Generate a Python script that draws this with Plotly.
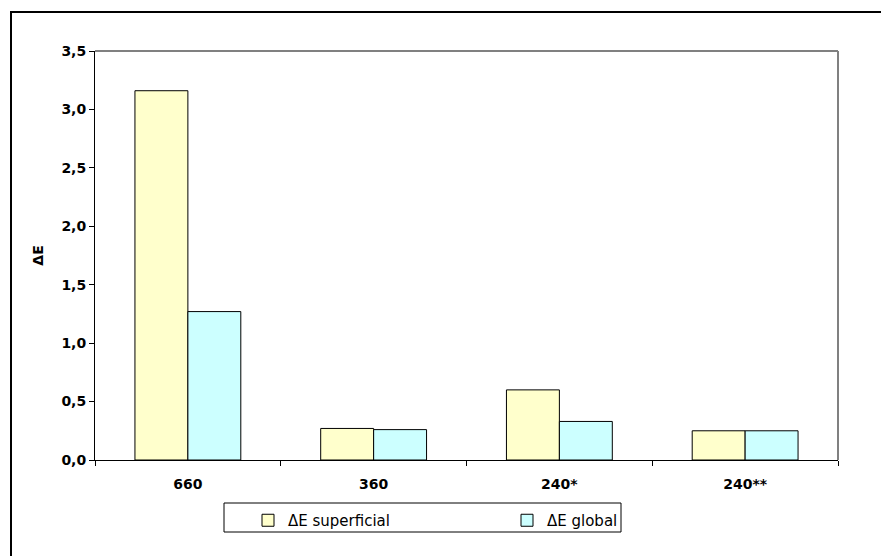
import plotly.graph_objects as go

categories = ["660", "360", "240*", "240**"]
de_superficial = [3.16, 0.27, 0.60, 0.25]
de_global = [1.27, 0.26, 0.33, 0.25]
y_ticks = [0.0, 0.5, 1.0, 1.5, 2.0, 2.5, 3.0, 3.5]
y_tick_labels = ["0,0", "0,5", "1,0", "1,5", "2,0", "2,5", "3,0", "3,5"]

FONT = "DejaVu Sans, Arial, sans-serif"

fig = go.Figure()
fig.add_trace(go.Bar(
    x=categories, y=de_superficial, name="ΔE superficial",
    marker=dict(color="#FFFFCC", line=dict(color="#000000", width=1)),
))
fig.add_trace(go.Bar(
    x=categories, y=de_global, name="ΔE global",
    marker=dict(color="#CCFFFF", line=dict(color="#000000", width=1)),
))

W, H = 881, 556
L, R, T, B = 95, 43, 51, 96
pw, ph = W - L - R, H - T - B

def px_x(x):
    return (x - L) / pw

def px_y(y):
    return (H - B - y) / ph

tick_font = dict(family=FONT, size=14, color="black", weight="bold")

fig.update_layout(
    width=W, height=H,
    margin=dict(l=L, r=R, t=T, b=B, pad=0),
    paper_bgcolor="white", plot_bgcolor="white",
    barmode="group", bargap=0.43, bargroupgap=0,
    font=dict(family=FONT, size=14, color="black"),
    xaxis=dict(
        type="category", tickson="boundaries", ticks="outside", ticklen=5,
        tickcolor="#000000", showline=True, linecolor="#000000", linewidth=1,
        mirror=False, showgrid=False, tickfont=tick_font, ticklabelstandoff=11,
    ),
    yaxis=dict(
        range=[0, 3.5], tickvals=y_ticks, ticktext=y_tick_labels,
        ticks="outside", ticklen=5, tickcolor="#000000",
        showline=True, linecolor="#000000", linewidth=1, showgrid=False,
        zeroline=False, tickfont=tick_font,
        title=dict(text="ΔE", font=dict(family=FONT, size=14, color="black", weight="bold"), standoff=14),
    ),
    showlegend=True,
    legend=dict(
        orientation="h", x=px_x(248), y=px_y(504), xanchor="left", yanchor="top",
        font=dict(family=FONT, size=15, color="black"),
        bgcolor="rgba(0,0,0,0)", borderwidth=0,
        entrywidth=214, entrywidthmode="pixels", itemwidth=30,
    ),
    shapes=[
        # grey frame on top and right of the plot area
        dict(type="line", xref="paper", yref="paper", x0=0, x1=1, y0=1, y1=1,
             line=dict(color="#808080", width=2)),
        dict(type="line", xref="paper", yref="paper", x0=1, x1=1, y0=0, y1=1,
             line=dict(color="#808080", width=2)),
        # legend box
        dict(type="rect", xref="paper", yref="paper",
             x0=px_x(224), x1=px_x(621), y0=px_y(532), y1=px_y(503),
             line=dict(color="#000000", width=1), fillcolor="rgba(0,0,0,0)"),
        # outer chart border
        dict(type="rect", xref="paper", yref="paper",
             x0=px_x(11), x1=px_x(900), y0=px_y(580), y1=px_y(12),
             line=dict(color="#000000", width=2), fillcolor="rgba(0,0,0,0)"),
    ],
)

fig.write_html("out.html")
